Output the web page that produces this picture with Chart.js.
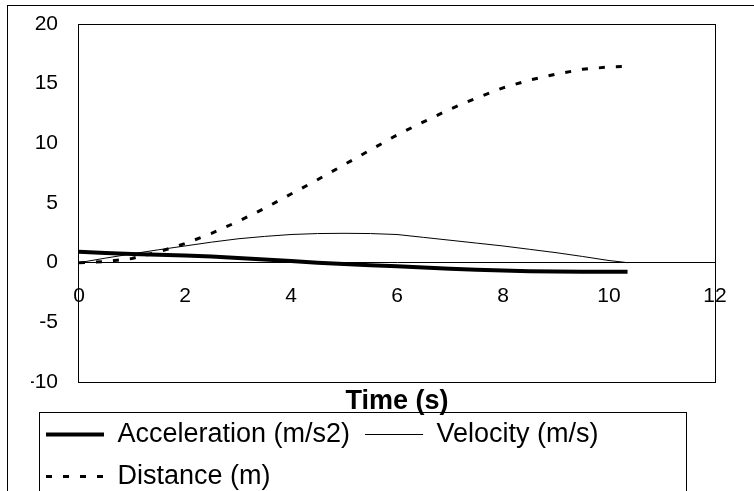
<!DOCTYPE html>
<html>
<head>
<meta charset="utf-8">
<script src="https://cdn.jsdelivr.net/npm/chart.js@4/dist/chart.umd.min.js"></script>
<style>
    html, body { margin: 0; padding: 0; background: #fff; overflow: hidden; }
    #wrap { position: relative; width: 754px; height: 500px; }
</style>
</head>
<body>
<div id="wrap"><canvas id="motion" width="754" height="500"></canvas></div>
<script>
'use strict';

const times = [0, 0.5, 1, 1.5, 2, 2.5, 3, 3.5, 4, 4.5, 5, 5.5, 6, 6.5, 7, 7.5, 8, 8.5, 9, 9.5, 10, 10.35];
const acceleration = [0.92, 0.82, 0.72, 0.66, 0.6, 0.52, 0.4, 0.27, 0.13, 0.0, -0.12, -0.22, -0.31, -0.41, -0.52, -0.6, -0.66, -0.71, -0.75, -0.76, -0.76, -0.76];
const velocity = [0, 0.38, 0.74, 1.08, 1.4, 1.72, 2.0, 2.2, 2.36, 2.44, 2.46, 2.44, 2.36, 2.12, 1.88, 1.64, 1.4, 1.12, 0.84, 0.52, 0.18, 0];
const distance = [0, 0.1, 0.35, 0.9, 1.6, 2.45, 3.45, 4.55, 5.75, 6.95, 8.2, 9.45, 10.7, 11.8, 12.86, 13.8, 14.65, 15.3, 15.8, 16.2, 16.4, 16.45];
const xTickValues = [0, 2, 4, 6, 8, 10, 12];
const yTickValues = [-10, -5, 0, 5, 10, 15, 20];
const seriesLabels = ['Acceleration (m/s2)', 'Velocity (m/s)', 'Distance (m)'];
const axisTitle = 'Time (s)';

const FONT = "'Liberation Sans', Arial, sans-serif";
const Y_AXIS_WIDTH = 48;

function toPoints(values) {
    return times.map((t, i) => ({ x: t, y: values[i] }));
}

// outer chart frame, plot frame and the box round the legend
const framePlugin = {
    id: 'frames',
    beforeDraw(chart) {
        const ctx = chart.ctx;
        ctx.save();
        ctx.strokeStyle = '#000';
        ctx.lineWidth = 1;
        ctx.strokeRect(7.5, 5.5, 900, 700);
        ctx.restore();
    },
    afterDraw(chart) {
        const { ctx, chartArea, legend } = chart;
        ctx.save();
        ctx.strokeStyle = '#000';
        ctx.lineWidth = 1;
        ctx.strokeRect(Math.round(chartArea.left) - 0.5, Math.round(chartArea.top) + 0.5,
            Math.round(chartArea.right - chartArea.left) + 1, Math.round(chartArea.bottom - chartArea.top));
        ctx.strokeRect(legend.left + 8.5, legend.top + 6.5, 647, 200);
        ctx.restore();
    }
};

const ticksFrom = values => scale => {
    scale.ticks = values.map(value => ({ value }));
};

// point-style legend items lose the dash, so copy it back from the dataset
function legendLabels(chart) {
    const items = Chart.defaults.plugins.legend.labels.generateLabels(chart);
    return items.map(item => {
        const ds = chart.data.datasets[item.datasetIndex];
        item.lineDash = ds.borderDash || [];
        item.lineWidth = ds.borderWidth;
        return item;
    });
}

Chart.defaults.color = '#000';
Chart.defaults.font.family = FONT;

new Chart(document.getElementById('motion'), {
    type: 'line',
    data: {
        datasets: [
            {
                label: seriesLabels[0],
                data: toPoints(acceleration),
                borderColor: '#000',
                backgroundColor: '#000',
                borderWidth: 4,
                pointRadius: 0,
                tension: 0,
            },
            {
                label: seriesLabels[1],
                data: toPoints(velocity),
                borderColor: '#000',
                backgroundColor: '#000',
                borderWidth: 1,
                pointRadius: 0,
                tension: 0,
            },
            {
                label: seriesLabels[2],
                data: toPoints(distance),
                borderColor: '#000',
                backgroundColor: '#000',
                borderWidth: 3,
                borderDash: [6, 11],
                pointRadius: 0,
                tension: 0,
            },
        ]
    },
    options: {
        responsive: false,
        animation: false,
        events: [],
        layout: { padding: { left: 31, right: 39, top: 24, bottom: 0 } },
        scales: {
            x: {
                type: 'linear',
                position: { y: 0 },
                min: 0,
                max: 12,
                afterBuildTicks: ticksFrom(xTickValues),
                grid: { display: false, drawTicks: false },
                border: { display: true, color: '#000', width: 1 },
                ticks: { padding: 21, font: { size: 21 }, color: '#000', maxRotation: 0 },
            },
            y: {
                type: 'linear',
                position: 'left',
                min: -10,
                max: 20,
                afterBuildTicks: ticksFrom(yTickValues),
                afterFit: scale => {
                    scale.width = Y_AXIS_WIDTH;
                    scale.paddingTop = 0;
                    scale.paddingBottom = 0;
                },
                grid: { display: false, drawTicks: false },
                border: { display: false },
                ticks: { padding: 21, font: { size: 21 }, color: '#000' },
            }
        },
        plugins: {
            tooltip: { enabled: false },
            title: {
                display: true,
                text: axisTitle,
                position: 'bottom',
                weight: 500,
                fullSize: false,
                color: '#000',
                font: { size: 27, weight: 'bold', family: FONT, lineHeight: 1.2 },
                padding: { top: 3, bottom: -11.4 },
            },
            legend: {
                position: 'bottom',
                align: 'start',
                weight: 1000,
                labels: {
                    color: '#000',
                    font: { size: 27, family: FONT },
                    usePointStyle: true,
                    pointStyle: 'line',
                    pointStyleWidth: 58,
                    padding: 15,
                    generateLabels: legendLabels,
                }
            }
        }
    },
    plugins: [framePlugin]
});
</script>
</body>
</html>
